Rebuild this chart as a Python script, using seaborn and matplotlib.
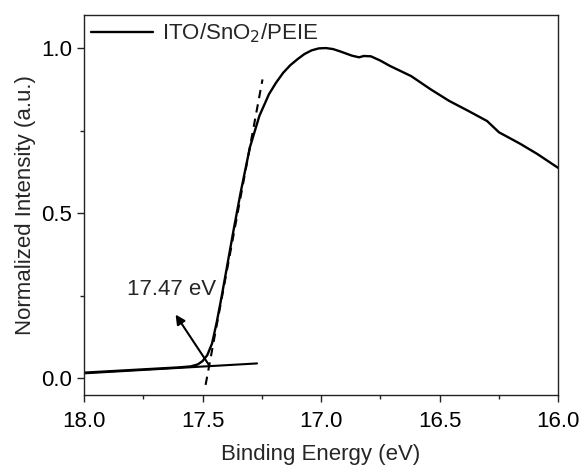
import seaborn as sns
import pandas as pd
import matplotlib.pyplot as plt

# spectrum
energy = [18.00, 17.90, 17.80, 17.70, 17.60, 17.55, 17.52, 17.50, 17.48, 17.46,
          17.44, 17.42, 17.40, 17.37, 17.34, 17.30, 17.26, 17.22, 17.19, 17.16,
          17.13, 17.10, 17.07, 17.04, 17.01, 16.98, 16.95, 16.92, 16.87, 16.84,
          16.82, 16.79, 16.75, 16.71, 16.62, 16.54, 16.46, 16.38, 16.30, 16.25,
          16.16, 16.09, 16.00]
intensity = [0.017, 0.021, 0.025, 0.029, 0.033, 0.036, 0.042, 0.052, 0.070, 0.105,
             0.17, 0.245, 0.325, 0.445, 0.56, 0.70, 0.795, 0.86, 0.895, 0.925,
             0.948, 0.966, 0.982, 0.993, 0.999, 1.0, 0.997, 0.99, 0.977, 0.972,
             0.976, 0.975, 0.962, 0.946, 0.915, 0.876, 0.84, 0.81, 0.779, 0.745,
             0.71, 0.68, 0.637]

# linear fits used for the onset
base_x = [18.0, 17.27]
base_y = [0.015, 0.045]
tangent_x = [17.487, 17.247]
tangent_y = [-0.02, 0.905]

onset_label = "17.47 eV"
onset = (17.468, 0.035)
label_pos = (17.62, 0.20)

sns.set_style("ticks")
plt.rcParams['font.family'] = ['Liberation Sans', 'DejaVu Sans']
plt.rcParams['axes.edgecolor'] = '#222222'
plt.rcParams['xtick.color'] = '#222222'
plt.rcParams['ytick.color'] = '#222222'

df = pd.DataFrame({'Binding Energy (eV)': energy, 'Normalized Intensity (a.u.)': intensity})

fig = plt.figure(figsize=(5.87, 4.70), dpi=100)
ax = fig.add_axes([0.143, 0.160, 0.808, 0.808])

sns.lineplot(data=df, x='Binding Energy (eV)', y='Normalized Intensity (a.u.)',
             color='black', lw=1.7, ax=ax, label='ITO/SnO$_2$/PEIE')
ax.plot(base_x, base_y, color='black', lw=1.5)
ax.plot(tangent_x, tangent_y, color='black', lw=1.5, linestyle=(0, (4, 3)))

ax.annotate('', xy=label_pos, xytext=onset,
            arrowprops=dict(arrowstyle='-|>', color='black', lw=1.5,
                            mutation_scale=14))
ax.text(17.63, 0.27, onset_label, fontsize=16, ha='center', va='center')

ax.set_xlim(18, 16)
ax.set_ylim(-0.05, 1.1)
ax.set_xticks([18.0, 17.5, 17.0, 16.5, 16.0])
ax.set_xticks([17.75, 17.25, 16.75, 16.25], minor=True)
ax.set_yticks([0.0, 0.5, 1.0])
ax.set_yticks([0.25, 0.75], minor=True)
ax.xaxis.set_major_formatter(plt.FormatStrFormatter('%.1f'))
ax.yaxis.set_major_formatter(plt.FormatStrFormatter('%.1f'))
ax.tick_params(which='major', length=5, width=1, labelsize=16, labelcolor='black')
ax.tick_params(which='minor', length=3, width=1)
ax.tick_params(axis='x', which='major', pad=7)
for s in ax.spines.values():
    s.set_linewidth(1.0)
ax.set_xlabel('Binding Energy (eV)', fontsize=16, labelpad=8)
ax.set_ylabel('Normalized Intensity (a.u.)', fontsize=16, labelpad=4)

ax.legend(loc='upper left', frameon=False, fontsize=16, handlelength=2.8,
          borderaxespad=0.1, borderpad=0.2, handletextpad=0.4)

fig.savefig('out.png', dpi=100)
